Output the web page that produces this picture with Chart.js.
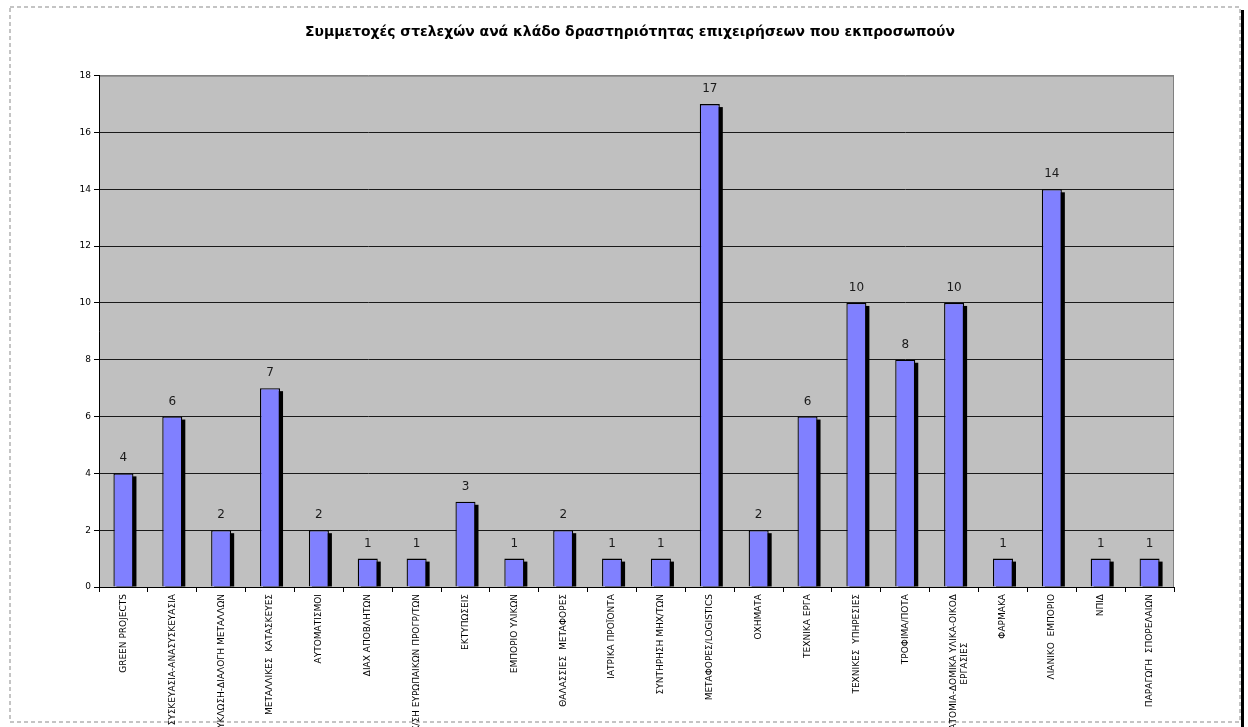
<!DOCTYPE html>
<html>
<head>
<meta charset="utf-8">
<script src="https://cdn.jsdelivr.net/npm/chart.js@4"></script>
<style>
  html, body { margin: 0; padding: 0; background: #fff; overflow: hidden; }
  #wrap { position: absolute; left: 0; top: 0; width: 1248px; height: 900px; }
</style>
</head>
<body>
<div id="wrap"><canvas id="chart" width="1248" height="900"></canvas></div>
<script>
const categories = [
    'GREEN PROJECTS',
    'ΣΥΣΚΕΥΑΣΙΑ-ΑΝΑΣΥΣΚΕΥΑΣΙΑ',
    'ΑΝΑΚΥΚΛΩΣΗ-ΔΙΑΛΟΓΗ ΜΕΤΑΛΛΩΝ',
    'ΜΕΤΑΛΛΙΚΕΣ  ΚΑΤΑΣΚΕΥΕΣ',
    'ΑΥΤΟΜΑΤΙΣΜΟΙ',
    'ΔΙΑΧ ΑΠΟΒΛΗΤΩΝ',
    'ΔΙΑΧ/ΣΗ ΕΥΡΩΠΑΙΚΩΝ ΠΡΟΓΡ/ΤΩΝ',
    'ΕΚΤΥΠΩΣΕΙΣ',
    'ΕΜΠΟΡΙΟ ΥΛΙΚΩΝ',
    'ΘΑΛΑΣΣΙΕΣ  ΜΕΤΑΦΟΡΕΣ',
    'ΙΑΤΡΙΚΑ ΠΡΟΪΟΝΤΑ',
    'ΣΥΝΤΗΡΗΣΗ ΜΗΧ/ΤΩΝ',
    'ΜΕΤΑΦΟΡΕΣ/LOGISTICS',
    'ΟΧΗΜΑΤΑ',
    'ΤΕΧΝΙΚΑ ΕΡΓΑ',
    'ΤΕΧΝΙΚΕΣ  ΥΠΗΡΕΣΙΕΣ',
    'ΤΡΟΦΙΜΑ/ΠΟΤΑ',
    ['ΛΑΤΟΜΙΑ-ΔΟΜΙΚΑ ΥΛΙΚΑ-ΟΙΚΟΔ', 'ΕΡΓΑΣΙΕΣ                 '],
    'ΦΑΡΜΑΚΑ',
    'ΛΙΑΝΙΚΟ  ΕΜΠΟΡΙΟ',
    'ΝΠΙΔ',
    'ΠΑΡΑΓΩΓΗ  ΣΠΟΡΕΛΑΙΩΝ'
];
const participants = [4, 6, 2, 7, 2, 1, 1, 3, 1, 2, 1, 1, 17, 2, 6, 10, 8, 10, 1, 14, 1, 1];
const yTicks = [0, 2, 4, 6, 8, 10, 12, 14, 16, 18];
const chartTitle = 'Συμμετοχές στελεχών ανά κλάδο δραστηριότητας επιχειρήσεων που εκπροσωπούν';

// page frame + grey plot background
const frame = {
    id: 'frame',
    beforeDraw(chart) {
        const ctx = chart.ctx;
        const a = chart.chartArea;
        ctx.save();
        ctx.strokeStyle = '#c4c4c4';
        ctx.lineWidth = 2;
        ctx.setLineDash([4, 3]);
        ctx.strokeRect(10, 7, 1230, 715);
        ctx.setLineDash([]);
        ctx.fillStyle = '#000';
        ctx.fillRect(1241, 10, 3, 717);
        ctx.fillStyle = '#c0c0c0';
        ctx.fillRect(a.left, a.top, a.right - a.left, a.bottom - a.top);
        ctx.strokeStyle = '#808080';
        ctx.lineWidth = 1;
        ctx.strokeRect(a.left + 0.5, a.top + 0.5, a.right - a.left - 1, a.bottom - a.top);
        ctx.restore();
    }
};

// black drop shadow behind each bar, value labels on top
const barExtras = {
    id: 'barExtras',
    beforeDatasetsDraw(chart) {
        const ctx = chart.ctx;
        const a = chart.chartArea;
        const meta = chart.getDatasetMeta(0);
        ctx.save();
        ctx.beginPath();
        ctx.rect(a.left, a.top, a.right - a.left, a.bottom - a.top);
        ctx.clip();
        ctx.fillStyle = '#000';
        meta.data.forEach(bar => {
            const p = bar.getProps(['x', 'y', 'base', 'width'], true);
            ctx.fillRect(p.x - p.width / 2 + 3, p.y + 3, p.width, p.base - p.y - 3);
        });
        ctx.restore();
    },
    afterDatasetsDraw(chart) {
        const ctx = chart.ctx;
        const meta = chart.getDatasetMeta(0);
        ctx.save();
        ctx.font = '12px "DejaVu Sans"';
        ctx.fillStyle = '#1a1a1a';
        ctx.textAlign = 'center';
        ctx.textBaseline = 'middle';
        meta.data.forEach((bar, i) => {
            ctx.fillText(String(participants[i]), bar.x, bar.y - 15);
        });
        ctx.restore();
    }
};

const ctx = document.getElementById('chart').getContext('2d');
const chart = new Chart(ctx, {
    type: 'bar',
    data: {
        labels: categories,
        datasets: [{
            data: participants,
            backgroundColor: '#8080ff',
            borderColor: '#000',
            borderWidth: 1.3,
            categoryPercentage: 1,
            barPercentage: 0.41
        }]
    },
    options: {
        responsive: false,
        animation: false,
        layout: { padding: { left: 12, right: 0, top: 0, bottom: 0 } },
        plugins: {
            legend: { display: false },
            tooltip: { enabled: false },
            title: {
                display: true,
                text: chartTitle,
                color: '#000',
                font: { family: 'DejaVu Sans', size: 13.9, weight: 'bold' },
                padding: { top: 24, bottom: 35 }
            }
        },
        scales: {
            x: {
                grid: {
                    offset: true,
                    drawOnChartArea: false,
                    tickLength: 5,
                    tickColor: '#000'
                },
                border: { color: '#000', width: 1 },
                ticks: {
                    autoSkip: false,
                    maxRotation: 90,
                    minRotation: 90,
                    padding: 2,
                    color: '#000',
                    font: { family: 'DejaVu Sans', size: 9 }
                },
                afterFit(scale) { scale.height = 313; }
            },
            y: {
                min: 0,
                max: 18,
                afterBuildTicks(scale) { scale.ticks = yTicks.map(v => ({ value: v })); },
                grid: {
                    color: c => (c.tick && c.tick.value === 18 ? '#808080' : '#1a1a1a'),
                    tickColor: '#000',
                    tickLength: 5
                },
                border: { color: '#000', width: 1 },
                ticks: {
                    padding: 3,
                    color: '#000',
                    font: { family: 'DejaVu Sans', size: 9 }
                },
                afterFit(scale) { scale.width = 87; }
            },
            // empty right-hand strip so the plot ends where the reference does
            spacer: {
                type: 'linear',
                position: 'right',
                display: true,
                grid: { display: false },
                border: { display: false },
                ticks: { display: false },
                afterFit(scale) { scale.width = 74; }
            }
        }
    },
    plugins: [frame, barExtras]
});
</script>
</body>
</html>
